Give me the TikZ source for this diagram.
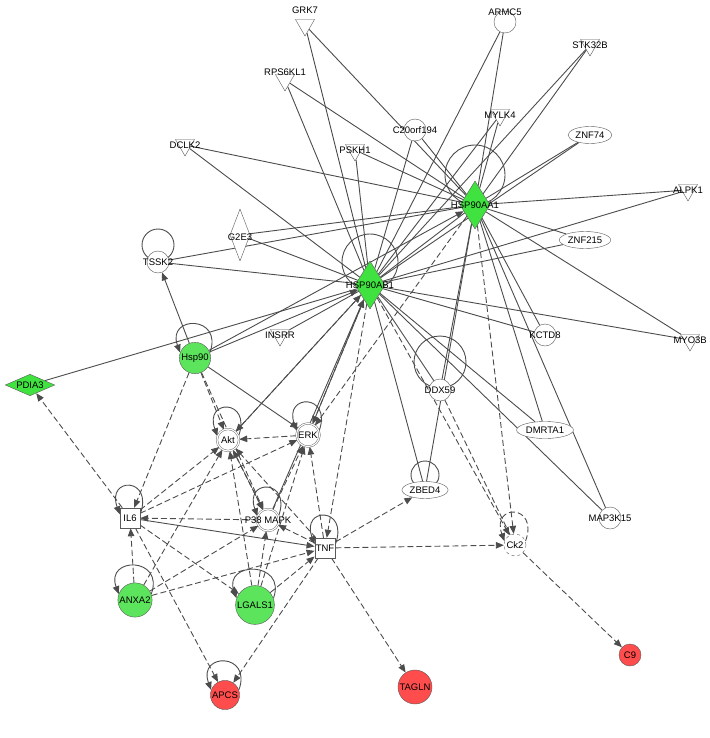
\documentclass[tikz,border=0pt]{standalone}
\usepackage{fontspec}
\setmainfont{Liberation Sans}
\usetikzlibrary{shapes.geometric,arrows.meta,backgrounds}
\begin{document}
\begin{tikzpicture}[x=1pt,y=-1pt,font=\fontsize{9.5}{10}\selectfont,
 every node/.style={draw=gray!70!black,fill=white,inner sep=1pt},
 circ/.style={circle,minimum size=22pt},
 dbl/.style={double=white,double distance=1.2pt},
 tri/.style={regular polygon,regular polygon sides=3,shape border rotate=180,minimum size=22pt,inner sep=0pt},
 ell/.style={ellipse,minimum height=17pt,inner sep=1pt},
 sq/.style={rectangle,minimum size=20pt},
 grn/.style={fill=green!60!white!90!black},
 red/.style={fill=red!70!white},
 lbl/.style={draw=none,fill=none,inner sep=0pt},
 ln/.style={draw=gray!60!black,line width=0.9pt},
 sa/.style={ln,-{Triangle[length=8pt,width=6.5pt]}},
 da/.style={ln,dash pattern=on 6pt off 3pt,-{Triangle[length=8pt,width=6.5pt]}},
 dl/.style={ln,dash pattern=on 6pt off 3pt}]
\useasboundingbox (0,0) rectangle (709,738);
% nodes
\node[tri] (GRK7) at (305,25) {};\node[lbl] at (305,10) {GRK7};
\node[circ] (ARMC5) at (505,22) {};\node[lbl] at (505,12) {ARMC5};
\node[tri] (STK32B) at (590,45) {};\node[lbl] at (590,45) {STK32B};
\node[tri] (RPS) at (285,80) {};\node[lbl] at (285,72) {RPS6KL1};
\node[circ] (C20) at (415,130) {};\node[lbl] at (415,130) {C20orf194};
\node[tri] (MYLK4) at (500,115) {};\node[lbl] at (500,115) {MYLK4};
\node[ell,minimum width=40pt] (ZNF74) at (590,135) {ZNF74};
\node[tri] (DCLK2) at (185,145) {};\node[lbl] at (185,145) {DCLK2};
\node[tri] (PSKH1) at (355,150) {};\node[lbl] at (355,150) {PSKH1};
\node[tri] (ALPK1) at (688,190) {};\node[lbl] at (688,190) {ALPK1};
\node[diamond,aspect=0.35,minimum width=20pt,minimum height=52pt] (G2E3) at (240,235) {};\node[lbl] at (240,237) {G2E3};
\node[ell,minimum width=48pt] (ZNF215) at (585,240) {ZNF215};
\node[circ] (TSSK2) at (158,262) {};\node[lbl] at (158,262) {TSSK2};
\node[tri] (INSRR) at (280,335) {};\node[lbl] at (280,335) {INSRR};
\node[circ] (KCTD8) at (545,335) {};\node[lbl] at (545,335) {KCTD8};
\node[tri] (MYO3B) at (690,340) {};\node[lbl,anchor=east] at (707,340) {MYO3B};
\node[circ] (DDX59) at (440,390) {};\node[lbl] at (440,390) {DDX59};
\node[ell,minimum width=48pt] (DMRTA1) at (545,430) {DMRTA1};
\node[circ] (MAP3K15) at (610,518) {};\node[lbl] at (610,518) {MAP3K15};
\node[diamond,aspect=0.6,minimum width=30pt,minimum height=48pt,fill=green!85!black!75!white] (AA1) at (475,205) {};\node[lbl] at (475,205) {HSP90AA1};
\node[diamond,aspect=0.6,minimum width=30pt,minimum height=48pt,fill=green!85!black!75!white] (AB1) at (370,285) {};\node[lbl] at (370,285) {HSP90AB1};
\node[circ,grn] (Hsp90) at (195,358) {Hsp90};
\node[diamond,aspect=2.3,minimum width=44pt,fill=green!85!black!75!white] (PDIA3) at (30,385) {PDIA3};
\node[circ,dbl] (Akt) at (228,440) {Akt};
\node[circ,dbl] (ERK) at (308,435) {ERK};
\node[ell,minimum width=44pt] (ZBED4) at (425,490) {ZBED4};
\node[sq] (IL6) at (130,518) {IL6};
\node[circ,dbl] (P38) at (268,520) {};\node[lbl] at (268,520) {P38 MAPK};
\node[sq] (TNF) at (325,548) {TNF};
\node[circ,dashed] (Ck2) at (515,545) {Ck2};
\node[circ,grn] (ANXA2) at (135,600) {ANXA2};
\node[circ,grn] (LGALS1) at (255,605) {LGALS1};
\node[circ,red] (C9) at (630,655) {C9};
\node[circ,red] (APCS) at (225,695) {APCS};
\node[circ,red] (TAGLN) at (415,687) {TAGLN};
\begin{pgfonlayer}{background}
% big loops
\draw[ln] (475,175) circle (30);
\draw[ln] (370,262) circle (28);
\draw[ln] (440,362) circle (26);
\draw[ln] (158,245) circle (16);
\draw[ln] (425,475) circle (14);
% self loops
\foreach \n in {Hsp90,Akt,ERK,IL6,P38,TNF,ANXA2,LGALS1,APCS}
  \draw[sa] (\n.20) .. controls +(-70:40) and +(-110:40) .. (\n.160);
\draw[da] (Ck2.20) .. controls +(-70:40) and +(-110:40) .. (Ck2.160);
% edges to HSP90s
\foreach \n in {GRK7,ARMC5,STK32B,RPS,C20,MYLK4,ZNF74,DCLK2,PSKH1,ALPK1,G2E3,ZNF215,TSSK2,KCTD8,MYO3B,DMRTA1,MAP3K15}{
  \draw[ln] (\n) -- (AA1); \draw[ln] (\n) -- (AB1);}
\draw[ln] (AA1) -- (AB1);
\draw[ln] (DDX59) -- (AA1);\draw[ln] (DDX59) -- (AB1);
\draw[ln] (INSRR) -- (AB1);\draw[ln] (ZBED4) -- (AB1);\draw[ln] (ZBED4) -- (AA1);
\draw[ln] (PDIA3) -- (AB1);
\draw[sa] (Hsp90) -- (AB1);\draw[sa] (Hsp90) -- (AA1);
\draw[sa] (Hsp90) -- (TSSK2);
\draw[sa] (Akt) -- (AB1);\draw[sa] (ERK) -- (AB1);\draw[sa] (P38) -- (AB1);
\draw[sa] (Hsp90) -- (ERK);
\draw[da] (AB1) -- (ERK);\draw[da] (AB1) -- (Akt);\draw[da] (AB1) -- (TNF);
\draw[da] (AA1) -- (ERK);\draw[da] (AA1) -- (Ck2);\draw[da] (AB1) -- (Ck2);
% lower network
\draw[da] (IL6) -- (PDIA3);
\draw[da] (Hsp90) -- (Akt);\draw[da] (Hsp90) -- (IL6);\draw[da] (Hsp90) -- (P38);
\draw[da] (ERK) -- (Akt);\draw[da] (P38) -- (Akt);\draw[da] (Akt) -- (P38);
\draw[da] (IL6) -- (Akt);\draw[da] (IL6) -- (ERK);\draw[da] (P38) -- (IL6);
\draw[da] (TNF) -- (Akt);\draw[da] (TNF) -- (ERK);\draw[da] (TNF) -- (P38);
\draw[sa] (IL6) -- (TNF);
\draw[da] (TNF) -- (ZBED4);\draw[da] (TNF) -- (Ck2);\draw[da] (TNF) -- (TAGLN);\draw[da] (TNF) -- (APCS);
\draw[da] (Ck2) -- (C9);\draw[dl] (DDX59) -- (Ck2);
\draw[da] (IL6) -- (APCS);\draw[da] (ANXA2) -- (IL6);\draw[da] (IL6) -- (LGALS1);
\draw[da] (ANXA2) -- (Akt);\draw[da] (ANXA2) -- (P38);\draw[da] (ANXA2) -- (TNF);
\draw[da] (LGALS1) -- (Akt);\draw[da] (LGALS1) -- (ERK);\draw[da] (LGALS1) -- (TNF);\draw[da] (LGALS1) -- (P38);
\draw[da] (P38) -- (ERK);
\end{pgfonlayer}
\end{tikzpicture}
\end{document}
